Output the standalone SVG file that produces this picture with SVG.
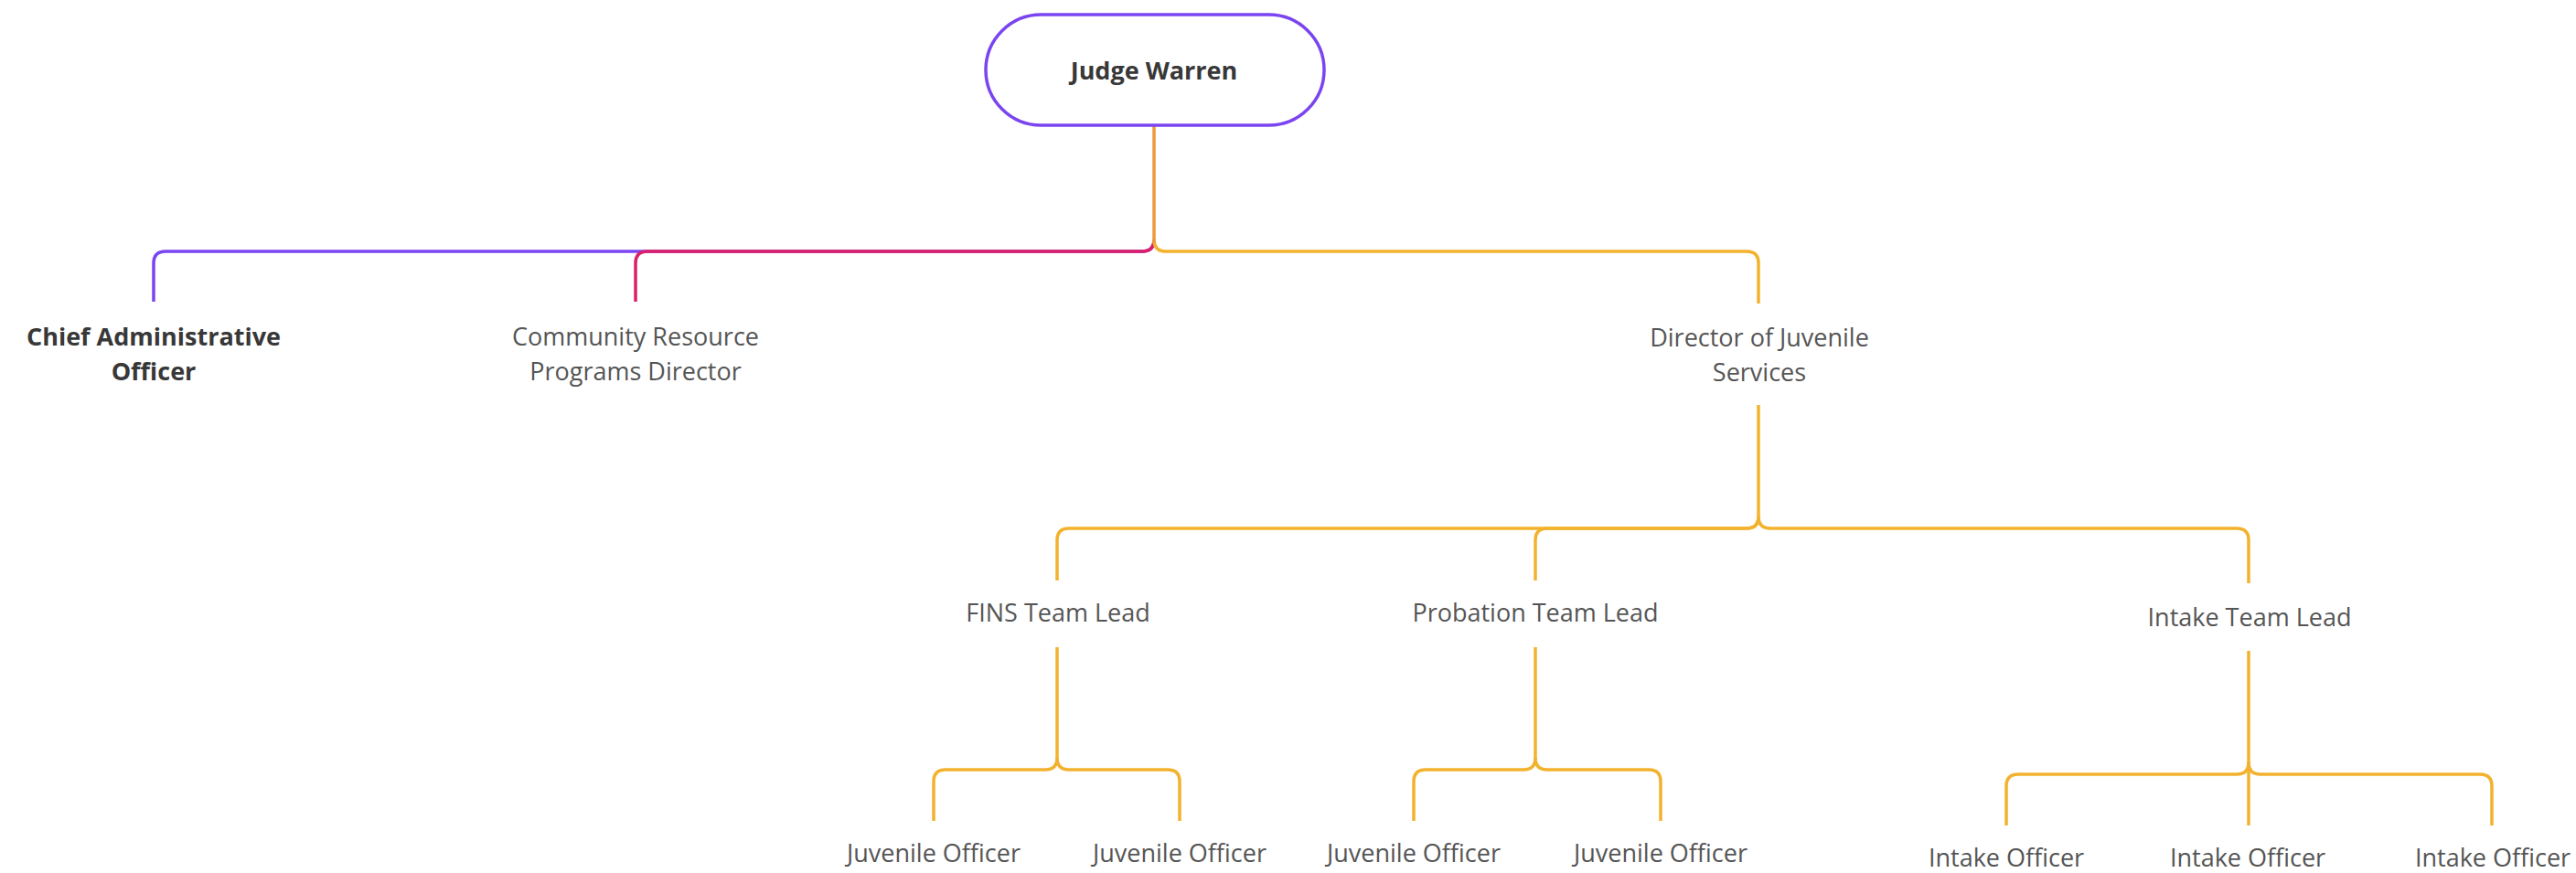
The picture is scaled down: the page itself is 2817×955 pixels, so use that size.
<svg xmlns="http://www.w3.org/2000/svg" width="2817" height="955" viewBox="0 0 2817 955">
<style>
.bg{fill:#ffffff}
.pill{fill:#ffffff;stroke:#7A45F0;stroke-width:3.5}
.t{font-family:"Open Sans","Liberation Sans",sans-serif;font-size:27px;fill:#555555;text-anchor:middle}
.b{font-weight:bold;fill:#383838}
.c{fill:none;stroke-width:3.5;stroke-linecap:butt;stroke-linejoin:round}
.pu{stroke:#7A45F0}
.mg{stroke:#DB1F6A}
.ye{stroke:#F3B22E}
.or{stroke:#EC9A3A}
</style>
<rect class="bg" x="0" y="0" width="2817" height="955"/>
<g id="connectors">
<path class="c pu" d="M1262 262 Q1262 275 1249 275 H181 Q168 275 168 288 V330"/>
<path class="c mg" d="M1262 262 Q1262 275 1249 275 H708 Q695 275 695 288 V330"/>
<path class="c ye" d="M1262 262 Q1262 275 1275 275 H1910 Q1923 275 1923 288 V332"/>
<path class="c or" d="M1262 137 V266"/>
<path class="c ye" d="M1923 443 V565 Q1923 578 1910 578 H1169 Q1156 578 1156 591 V635"/>
<path class="c ye" d="M1923 565 Q1923 578 1910 578 H1692 Q1679 578 1679 591 V635"/>
<path class="c ye" d="M1923 565 Q1923 578 1936 578 H2446 Q2459 578 2459 591 V638"/>
<path class="c ye" d="M1156 708 V829 Q1156 842 1143 842 H1034 Q1021 842 1021 855 V898"/>
<path class="c ye" d="M1156 829 Q1156 842 1169 842 H1277 Q1290 842 1290 855 V898"/>
<path class="c ye" d="M1679 708 V829 Q1679 842 1666 842 H1559 Q1546 842 1546 855 V898"/>
<path class="c ye" d="M1679 829 Q1679 842 1692 842 H1803 Q1816 842 1816 855 V898"/>
<path class="c ye" d="M2459 712 V903"/>
<path class="c ye" d="M2459 834 Q2459 847 2446 847 H2207 Q2194 847 2194 860 V903"/>
<path class="c ye" d="M2459 834 Q2459 847 2472 847 H2712 Q2725 847 2725 860 V903"/>
</g>
<g id="judge-warren">
<rect class="pill" x="1078" y="16" width="370" height="121" rx="60.5" ry="60.5"/>
<text class="t b" x="1262" y="87" font-size="28">Judge Warren</text>
</g>
<g id="chief-administrative-officer">
<text class="t b" x="168" y="378">Chief Administrative</text>
<text class="t b" x="168" y="416">Officer</text>
</g>
<g id="community-resource-programs-director">
<text class="t" x="695" y="378">Community Resource</text>
<text class="t" x="695" y="416">Programs Director</text>
</g>
<g id="director-juvenile-services">
<text class="t" x="1924" y="379">Director of Juvenile</text>
<text class="t" x="1924" y="417">Services</text>
</g>
<g id="fins-team-lead"><text class="t" x="1157" y="680">FINS Team Lead</text></g>
<g id="probation-team-lead"><text class="t" x="1679" y="680">Probation Team Lead</text></g>
<g id="intake-team-lead"><text class="t" x="2460" y="685">Intake Team Lead</text></g>
<g id="juvenile-officer-1"><text class="t" x="1021" y="943">Juvenile Officer</text></g>
<g id="juvenile-officer-2"><text class="t" x="1290" y="943">Juvenile Officer</text></g>
<g id="juvenile-officer-3"><text class="t" x="1546" y="943">Juvenile Officer</text></g>
<g id="juvenile-officer-4"><text class="t" x="1816" y="943">Juvenile Officer</text></g>
<g id="intake-officer-1"><text class="t" x="2194" y="948">Intake Officer</text></g>
<g id="intake-officer-2"><text class="t" x="2458" y="948">Intake Officer</text></g>
<g id="intake-officer-3"><text class="t" x="2726" y="948">Intake Officer</text></g>
</svg>
